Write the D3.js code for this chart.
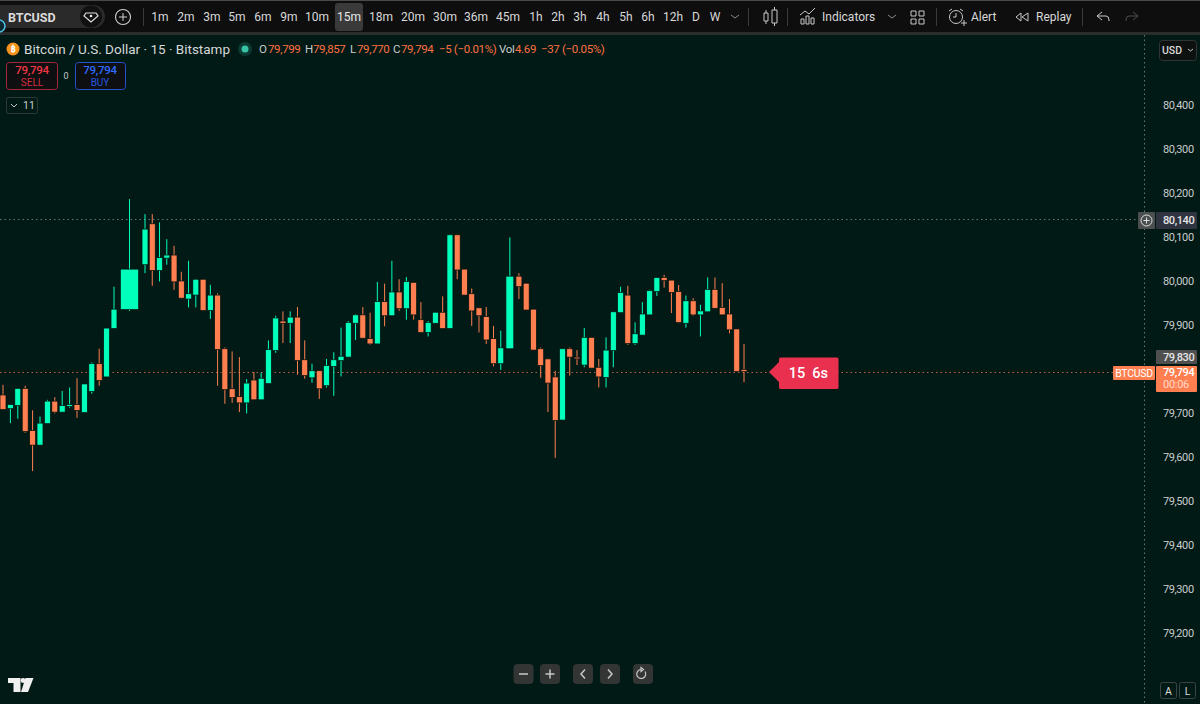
<!DOCTYPE html>
<html>
<head>
<meta charset="utf-8">
<script src="https://cdn.jsdelivr.net/npm/d3@7"></script>
<style>
  html, body { margin: 0; padding: 0; background: #011a16; overflow: hidden; }
  svg { display: block; }
  text { font-family: Roboto, "Noto Sans", sans-serif; }
</style>
</head>
<body>
<script>
// candles, oldest first (BTCUSD 15m)
const opens = [79741,79710,79717,79756,79660,79627,79676,79727,79702,79715,79719,79701,79749,79812,79782,79892,79935,80037,80130,80024,80052,80059,80000,79959,79968,80004,79933,79968,79846,79755,79737,79723,79775,79730,79767,79842,79909,79904,79918,79821,79780,79796,79762,79806,79819,79827,79904,79923,79869,79857,79953,79921,79975,79937,79997,79912,79883,79904,79929,79892,80105,80027,79971,79939,79919,79869,79812,79846,80011,79995,79936,79846,79823,79782,79684,79846,79827,79809,79872,79804,79781,79842,79928,79968,79858,79877,79923,79976,80008,80002,79976,79904,79955,79923,79930,79981,79940,79925,79891,79799];
const highs = [79764,79719,79756,79762,79706,79692,79730,79736,79750,79758,79779,79766,79815,79846,79893,79987,80186,80152,80152,80133,80095,80080,80021,80046,80004,80004,79991,79972,79849,79840,79827,79777,79793,79792,79865,79921,79931,79931,79941,79865,79812,79796,79823,79838,79894,79909,79925,79941,79928,79998,79994,80046,80004,80009,79997,79952,79909,79929,79965,80105,80105,80027,79983,79939,79941,79898,79887,80099,80018,79995,79936,79849,79823,79796,79846,79849,79843,79893,79872,79823,79872,79930,79987,79989,79906,79952,79980,80008,80014,80002,79991,79967,79961,79946,80008,80008,79995,79959,79891,79857];
const lows = [79708,79677,79687,79655,79568,79627,79676,79699,79702,79712,79689,79701,79744,79762,79782,79892,79932,80018,79989,79999,80037,79980,79961,79940,79940,79933,79914,79762,79721,79723,79702,79699,79730,79730,79767,79837,79859,79859,79787,79778,79769,79732,79758,79739,79783,79827,79866,79870,79855,79857,79897,79921,79932,79912,79912,79883,79874,79904,79892,79892,80004,79968,79898,79883,79857,79806,79798,79846,79959,79934,79843,79780,79702,79598,79684,79785,79809,79804,79802,79758,79758,79804,79928,79855,79855,79877,79923,79966,79985,79927,79904,79894,79921,79874,79930,79938,79923,79881,79794,79770];
const closes = [79708,79719,79756,79658,79627,79677,79727,79702,79717,79719,79706,79766,79812,79774,79893,79936,80027,80118,80024,80053,80059,79998,79961,79971,80004,79933,79968,79844,79753,79735,79723,79768,79730,79779,79844,79916,79904,79918,79819,79785,79796,79755,79808,79821,79829,79906,79923,79870,79857,79953,79921,79975,79937,79999,79923,79883,79906,79929,79892,80105,80025,79968,79932,79921,79866,79812,79848,80011,79987,79934,79843,79808,79768,79683,79846,79827,79823,79872,79802,79782,79843,79930,79974,79858,79880,79925,79978,80008,80001,79974,79906,79955,79923,79932,79981,79938,79923,79889,79794,79794];

const priceTicks = [80400,80300,80200,80100,80000,79900,79700,79600,79500,79400,79300,79200];
const timeframes = ['1m','2m','3m','5m','6m','9m','10m','15m','18m','20m','30m','36m','45m','1h','2h','3h','4h','5h','6h','12h','D','W'];
const timeframeX = [160,186,212,237,263,289,317,349,381,413,445,476,508,536,558,580,603,626,648,673,696,715];
const activeTimeframe = '15m';
const lastPrice = 79794, crossPrice = 80140, hoverPrice = 79830;
const legendParts = [
  ['O',259,'#c8cbcb'],['79,799',268,'#ff7043'],['H',305,'#c8cbcb'],['79,857',313,'#ff7043'],
  ['L',350,'#c8cbcb'],['79,770',357,'#ff7043'],['C',393,'#c8cbcb'],['79,794',401,'#ff7043'],
  ['\u22125 (\u22120.01%)',439,'#ff7043'],['Vol',499,'#c8cbcb'],['4.69',515,'#ff7043'],['\u221237 (\u22120.05%)',541,'#ff7043']
];

const w = 1200, h = 704;
const bg = '#011a16', up = '#00ffbb', down = '#ff7f50';
// a couple of bars are squeezed wider in the screenshot
const barSpans = { 16: 3.5, 67: 1.5 };

const dataset = opens.map((o, i) => ({ o, h: highs[i], l: lows[i], c: closes[i], span: barSpans[i] || 1 }));
let slot = 0;
dataset.forEach((d, i) => {
  if (i > 0) slot += (dataset[i - 1].span + d.span) / 2;
  d.slot = slot;
});

const svg = d3.select('body').append('svg').attr('width', w).attr('height', h);
svg.append('rect').attr('width', w).attr('height', h).attr('fill', bg);

const xScale = d3.scaleLinear().domain([0, 15, 19.5, 102]).range([3, 114, 145, 744]);
const yScale = d3.scaleLinear().domain([79200, 80400]).range([633, 105]);
const slotW = 7.27;

// reference lines
const dotted = (price, x2, color) => svg.append('line')
  .attr('x1', 0).attr('x2', x2)
  .attr('y1', Math.round(yScale(price)) + 0.5).attr('y2', Math.round(yScale(price)) + 0.5)
  .attr('stroke', color).attr('stroke-dasharray', '1.5 3');
dotted(crossPrice, 1138, '#6a7472');
dotted(lastPrice, 1113, '#b8623f');

svg.append('line').attr('x1', 1144.5).attr('x2', 1144.5).attr('y1', 35).attr('y2', h)
  .attr('stroke', '#6a7472').attr('stroke-dasharray', '1.5 3');

// candles
const candle = svg.append('g').selectAll('g').data(dataset).enter().append('g');
candle.append('line')
  .attr('x1', d => xScale(d.slot)).attr('x2', d => xScale(d.slot))
  .attr('y1', d => yScale(d.h)).attr('y2', d => yScale(d.l))
  .attr('stroke', d => (d.c >= d.o ? up : down)).attr('stroke-width', 1);
candle.append('rect')
  .attr('x', d => xScale(d.slot) - (slotW * d.span * (d.span > 1 ? 0.72 : 0.82)) / 2)
  .attr('width', d => slotW * d.span * (d.span > 1 ? 0.72 : 0.82))
  .attr('y', d => yScale(Math.max(d.o, d.c)))
  .attr('height', d => Math.max(1.5, Math.abs(yScale(d.o) - yScale(d.c))))
  .attr('fill', d => (d.c >= d.o ? up : down))
  .attr('stroke', '#00100c').attr('stroke-width', 0.7);

// price axis
const yAxis = d3.axisRight(yScale).tickValues(priceTicks).tickSize(0).tickFormat(d3.format(','));
const axisG = svg.append('g').attr('transform', 'translate(1163,0)').call(yAxis);
axisG.select('.domain').remove();
axisG.selectAll('text').attr('x', 0).attr('fill', '#c9cccb').attr('letter-spacing', -0.4)
  .style('font-size', '11px').style('font-family', 'Roboto');

// price labels on the axis
function priceBox(x, y, bw, bh, fill) {
  svg.append('rect').attr('x', x).attr('y', y).attr('width', bw).attr('height', bh).attr('fill', fill).attr('rx', 1);
}
function label(str, x, y, size, fill, anchor, weight) {
  return svg.append('text').attr('x', x).attr('y', y).attr('font-size', size).attr('fill', fill)
    .attr('text-anchor', anchor || 'start').attr('font-weight', weight || 400)
    .attr('dominant-baseline', 'central').text(str);
}
const fmt = d3.format(',');

priceBox(1138, 212, 17, 17, '#4c4f4f');
svg.append('circle').attr('cx', 1146.5).attr('cy', 220.5).attr('r', 5.5).attr('fill', 'none').attr('stroke', '#e0e0e0');
svg.append('path').attr('d', 'M1143.5 220.5h6M1146.5 217.5v6').attr('stroke', '#e0e0e0');
priceBox(1156, 212, 41, 17, '#303441');
label(fmt(crossPrice), 1163, 220.5, 11, '#e6e6e6', 'start', 500).attr('letter-spacing', -0.4);

priceBox(1156, 350, 41, 14, '#4f4f4f');
label(fmt(hoverPrice), 1163, 357, 11, '#e6e6e6', 'start', 500).attr('letter-spacing', -0.4);

priceBox(1113, 366, 42, 14, down);
label('BTCUSD', 1134, 373, 10.5, '#fff', 'middle').attr('letter-spacing', -0.3);
priceBox(1156, 366, 41, 26, down);
label(fmt(lastPrice), 1163, 372.5, 11, '#fff', 'start', 500).attr('letter-spacing', -0.4);
label('00:06', 1163, 384, 11, '#ffd9c9').attr('letter-spacing', -0.3);

// countdown tag
svg.append('path').attr('d', 'M769 372L779 362V359Q779 357.5 780.5 357.5H837Q838.5 357.5 838.5 359V387.5Q838.5 389 837 389H780.5Q779 389 779 387.5V382Z')
  .attr('fill', '#e9304f');
label('15', 797, 373.5, 14.5, '#fff', 'middle', 500);
label('6s', 820, 373.5, 14.5, '#fff', 'middle', 500);

// top toolbar
svg.append('rect').attr('width', w).attr('height', 33).attr('fill', '#0e0e0e');
svg.append('rect').attr('width', w).attr('height', 1).attr('fill', '#4a4a4a');
svg.append('rect').attr('y', 32).attr('width', w).attr('height', 3).attr('fill', '#2b2d2d');

svg.append('rect').attr('x', -12).attr('y', 5).attr('width', 117).attr('height', 23).attr('rx', 11.5).attr('fill', '#2a2a2a');
svg.append('circle').attr('cx', 91).attr('cy', 16.5).attr('r', 11).attr('fill', '#111');
svg.append('path').attr('d', 'M86 13H96L98 16L91 22L84 16Z').attr('fill', 'none').attr('stroke', '#ddd').attr('stroke-width', 1.2);
svg.append('circle').attr('cx', 91).attr('cy', 16).attr('r', 1.3).attr('fill', '#eee');
svg.append('circle').attr('cx', -1).attr('cy', 26).attr('r', 6).attr('fill', '#0b2a33').attr('stroke', '#4cc3e6').attr('stroke-width', 1.5);
label('BTCUSD', 8, 17, 12.5, '#dcdcdc', 'start', 700);

svg.append('circle').attr('cx', 123).attr('cy', 17).attr('r', 7.5).attr('fill', 'none').attr('stroke', '#d0d0d0').attr('stroke-width', 1.1);
svg.append('path').attr('d', 'M119 17h8M123 13v8').attr('stroke', '#d0d0d0');

const sep = x => svg.append('line').attr('x1', x + 0.5).attr('x2', x + 0.5).attr('y1', 8).attr('y2', 26).attr('stroke', '#3a3a3a');
[143, 748, 787, 936, 1082].forEach(sep);

svg.append('rect').attr('x', 335).attr('y', 3).attr('width', 28).attr('height', 28).attr('rx', 3).attr('fill', '#3a3a3a');
svg.append('g').selectAll('text').data(timeframes).enter().append('text')
  .attr('x', (d, i) => timeframeX[i]).attr('y', 17)
  .attr('text-anchor', 'middle').attr('dominant-baseline', 'central')
  .attr('font-size', 12).attr('font-weight', 400)
  .attr('fill', d => (d === activeTimeframe ? '#e8e8e8' : '#d8d8d8')).text(d => d);

const icon = (d, color, sw) => svg.append('path').attr('d', d).attr('fill', 'none').attr('stroke', color || '#c8c8c8').attr('stroke-width', sw || 1);
icon('M731 15l4 3l4-3', '#8a8a8a');
// candle type icon
icon('M764 13h4v8h-4zM772 10h5v13h-5zM766 10v3M766 21v3M774.5 7v3M774.5 23v3');
// indicators icon
icon('M801 24v-5h3v5zM806 24v-8h3v8zM811 24v-6h3v6zM800 15l5-4l4 3l6-6');
label('Indicators', 822, 17, 12, '#d8d8d8');
icon('M888 15l4 3l4-3', '#8a8a8a');
// layouts icon
icon('M911 11h5v5h-5zM919 11h5v5h-5zM911 19h5v5h-5zM919 19h5v5h-5z');
// alert icon
svg.append('circle').attr('cx', 956).attr('cy', 17).attr('r', 6.5).attr('fill', 'none').attr('stroke', '#c8c8c8').attr('stroke-width', 1);
icon('M956 13v4h-3M949 11l3-2M960 9l3 2M961 23h6M964 20v6');
label('Alert', 971, 17, 12, '#d8d8d8');
// replay icon
icon('M1021 13l-5 4l5 4zM1028 13l-6 4l6 4z');
label('Replay', 1036, 17, 12, '#d8d8d8');
icon('M1102 12l-5 4l5 4M1097 16h9q3 0 3 4v1');
icon('M1133 12l5 4l-5 4M1138 16h-9q-3 0-3 4v1', '#4e4e4e');

// legend line
svg.append('circle').attr('cx', 13).attr('cy', 49).attr('r', 6.5).attr('fill', '#f7931a');
label('\u20bf', 13, 49, 9, '#fff', 'middle', 700);
label('Bitcoin / U.S. Dollar \u00b7 15 \u00b7 Bitstamp', 24, 49, 13.5, '#d6d8d8');
svg.append('circle').attr('cx', 245).attr('cy', 49).attr('r', 7).attr('fill', '#0c3a33');
svg.append('circle').attr('cx', 245).attr('cy', 49).attr('r', 3.5).attr('fill', '#37c3a5');
svg.append('g').selectAll('text').data(legendParts).enter().append('text')
  .attr('x', d => d[1]).attr('y', 49).attr('dominant-baseline', 'central')
  .attr('font-size', 11.5).attr('letter-spacing', -0.35).attr('fill', d => d[2]).text(d => d[0]);

// sell / buy
svg.append('rect').attr('x', 6.5).attr('y', 62.5).attr('width', 51).attr('height', 27).attr('rx', 3).attr('fill', '#0d0f10').attr('stroke', '#a8263a');
label(fmt(lastPrice), 32, 70, 11.5, '#f23645', 'middle', 500).attr('letter-spacing', -0.3);
label('SELL', 32, 82.5, 10, '#d92c40', 'middle');
label('0', 66, 76, 9, '#c9cccb', 'middle');
svg.append('rect').attr('x', 75.5).attr('y', 62.5).attr('width', 50).attr('height', 27).attr('rx', 3).attr('fill', '#0d0f10').attr('stroke', '#2a50d0');
label(fmt(lastPrice), 100, 70, 11.5, '#2f6bff', 'middle', 500).attr('letter-spacing', -0.3);
label('BUY', 100, 82.5, 10, '#2858e0', 'middle');

svg.append('rect').attr('x', 6.5).attr('y', 97.5).attr('width', 31).attr('height', 16).attr('rx', 2).attr('fill', 'none').attr('stroke', '#2c3a37');
icon('M11 104l3 3l3-3');
label('11', 23, 105.5, 10.5, '#c9cccb');

// USD button
svg.append('rect').attr('x', 1159.5).attr('y', 40.5).attr('width', 37).attr('height', 20).attr('rx', 3).attr('fill', '#0d1110').attr('stroke', '#303434');
label('USD', 1162, 50, 10.5, '#d8d8d8', 'start', 500);
icon('M1188 49l2.5 2l2.5-2');

// zoom / scroll buttons
const navX = [513.5, 540, 573, 600, 633];
svg.append('g').selectAll('rect').data(navX).enter().append('rect')
  .attr('x', d => d).attr('y', 664).attr('width', 20).attr('height', 20).attr('rx', 4).attr('fill', '#333535');
icon('M519 674h9', '#c8c8c8', 1.5);
icon('M545.5 674h9M550 669.5v9', '#c8c8c8', 1.5);
icon('M585 669.5l-4 4.5l4 4.5', '#c8c8c8', 1.5);
icon('M608 669.5l4 4.5l-4 4.5', '#c8c8c8', 1.5);
icon('M641 669.5a4.5 4.5 0 1 0 4 2M641 667.5v4l2.5-2z', '#c8c8c8', 1.2);

// logo
svg.append('path').attr('fill', '#f0f0f0').attr('d', 'M8 678H20.5V692H13.5V683H8Z');
svg.append('circle').attr('cx', 23).attr('cy', 680.5).attr('r', 2.4).attr('fill', '#f0f0f0');
svg.append('path').attr('fill', '#f0f0f0').attr('d', 'M25.5 678H33.5L28 692H21Z');

// A / L buttons
[[1160, 'A'], [1179, 'L']].forEach(b => {
  svg.append('rect').attr('x', b[0] + 0.5).attr('y', 682.5).attr('width', 16).attr('height', 16).attr('rx', 2).attr('fill', 'none').attr('stroke', '#3c4442');
  label(b[1], b[0] + 8.5, 691, 10.5, '#d8d8d8', 'middle');
});
</script>
</body>
</html>
